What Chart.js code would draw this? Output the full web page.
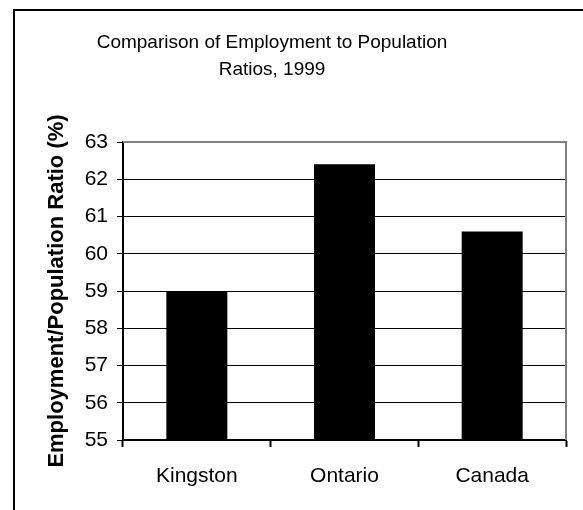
<!DOCTYPE html>
<html>
<head>
<meta charset="utf-8">
<script src="https://cdn.jsdelivr.net/npm/chart.js@4"></script>
<style>
  html, body { margin: 0; padding: 0; background: #fff; overflow: hidden; }
  #wrap { position: relative; width: 583px; height: 510px; overflow: hidden; }
  .frame { position: absolute; left: 13px; top: 9px; width: 700px; height: 700px;
           border-left: 2px solid #000; border-top: 2px solid #000; }
  canvas { position: absolute; left: 0; top: 0; }
</style>
</head>
<body>
<div id="wrap">
  <div class="frame"></div>
  <canvas id="myChart" width="583" height="510"></canvas>
</div>
<script>
const categories = ['Kingston', 'Ontario', 'Canada'];
const ratios = [59.0, 62.4, 60.6];
const yTicks = [55, 56, 57, 58, 59, 60, 61, 62, 63];
const titleLines = ['Comparison of Employment to Population', 'Ratios, 1999'];
const yTitle = 'Employment/Population Ratio (%)';

const FONT = '"Liberation Sans", Arial, sans-serif';

// gray frame on top and right of the plot
const plotFrame = {
  id: 'plotFrame',
  afterDraw(chart) {
    const { ctx, chartArea: a } = chart;
    ctx.save();
    ctx.strokeStyle = '#808080';
    ctx.lineWidth = 2;
    ctx.beginPath();
    ctx.moveTo(a.left, a.top);
    ctx.lineTo(a.right, a.top);
    ctx.lineTo(a.right, a.bottom);
    ctx.stroke();
    ctx.restore();
  }
};

// two line title, centred like the original
const chartTitle = {
  id: 'chartTitle',
  afterDraw(chart) {
    const ctx = chart.ctx;
    ctx.save();
    ctx.font = '19px ' + FONT;
    ctx.fillStyle = '#000';
    ctx.textAlign = 'center';
    ctx.textBaseline = 'alphabetic';
    titleLines.forEach((line, i) => ctx.fillText(line, 272, 48 + i * 27));
    ctx.restore();
  }
};

const ctx = document.getElementById('myChart');

new Chart(ctx, {
  type: 'bar',
  data: {
    labels: categories,
    datasets: [{
      data: ratios,
      backgroundColor: '#000',
      borderWidth: 0,
      barPercentage: 0.413,
      categoryPercentage: 1
    }]
  },
  options: {
    responsive: false,
    animation: false,
    layout: { padding: { top: 142, right: 17, left: 0, bottom: 0 } },
    plugins: {
      legend: { display: false },
      tooltip: { enabled: false },
      title: { display: false }
    },
    scales: {
      x: {
        z: 1,
        afterFit: s => { s.height = 70; },
        border: { color: '#000', width: 2 },
        grid: {
          offset: true,
          drawOnChartArea: false,
          tickLength: 7,
          tickColor: '#000',
          tickWidth: 2
        },
        ticks: { color: '#000', padding: 17, font: { family: FONT, size: 21 } }
      },
      y: {
        min: 55,
        max: 63,
        afterFit: s => { s.width = 123; },
        afterBuildTicks: s => { s.ticks = yTicks.map(v => ({ value: v })); },
        border: { color: '#000', width: 2 },
        grid: {
          color: c => (c.tick && c.tick.value === 63) ? '#808080' : '#000',
          lineWidth: 1,
          tickLength: 6,
          tickColor: '#000'
        },
        ticks: { color: '#000', padding: 9, font: { family: FONT, size: 21 } },
        title: {
          display: true,
          text: yTitle,
          color: '#000',
          padding: { top: 44, bottom: 0 },
          font: { family: FONT, size: 22, weight: 'bold' }
        }
      }
    }
  },
  plugins: [plotFrame, chartTitle]
});
</script>
</body>
</html>
